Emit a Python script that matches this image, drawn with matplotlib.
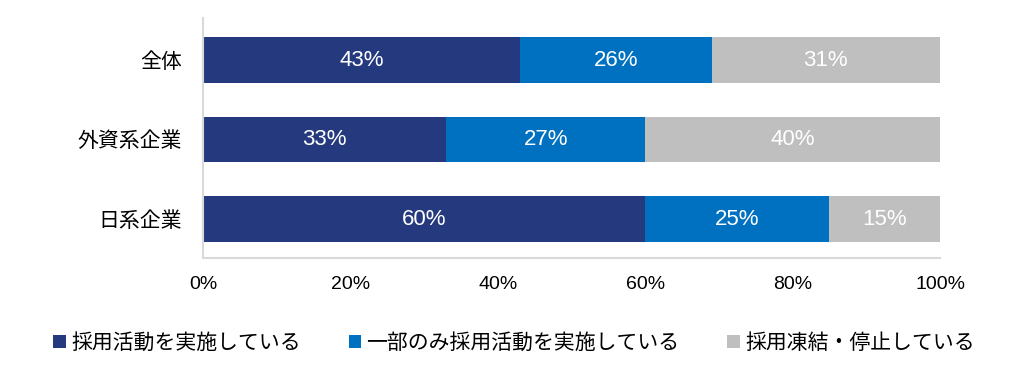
import matplotlib
matplotlib.use("Agg")
import matplotlib.pyplot as plt
import numpy as np

plt.rcParams['font.family'] = ['Liberation Sans', 'Noto Sans CJK JP', 'DejaVu Sans']

categories = ["全体", "外資系企業", "日系企業"]
series_names = ["採用活動を実施している", "一部のみ採用活動を実施している", "採用凍結・停止している"]
values = [
    [43, 33, 60],
    [26, 27, 25],
    [31, 40, 15],
]
colors = ["#253A7E", "#0070C0", "#BFBFBF"]
xticks = [0, 20, 40, 60, 80, 100]
xtick_labels = ["0%", "20%", "40%", "60%", "80%", "100%"]

fig = plt.figure(figsize=(10.22, 3.79), dpi=100)
ax = fig.add_axes([203/1022, 1-258/379, (940-203)/1022, 240/379])

y = np.arange(len(categories))
left = np.zeros(len(categories))
handles = []
for name, vals, c in zip(series_names, values, colors):
    vals = np.array(vals, dtype=float)
    b = ax.barh(y, vals, left=left, height=0.57, color=c, label=name)
    handles.append(b)
    for yi, l, v in zip(y, left, vals):
        ax.text(l + v/2, yi, f"{int(v)}%", ha="center", va="center",
                color="white", fontsize=16)
    left += vals

ax.set_xlim(0, 100)
ax.set_ylim(2.49, -0.53)
ax.set_yticks(y)
ax.set_yticklabels(categories, fontsize=15)
ax.set_xticks(xticks)
ax.set_xticklabels(xtick_labels, fontsize=14)
ax.tick_params(axis="both", length=0)
ax.tick_params(axis="x", pad=13)
ax.tick_params(axis="y", pad=15)
for s in ["top", "right"]:
    ax.spines[s].set_visible(False)
for s in ["left", "bottom"]:
    ax.spines[s].set_color("#D9D9D9")
    ax.spines[s].set_linewidth(1.5)

fig.legend(handles=handles, labels=series_names, loc="center",
           bbox_to_anchor=(0.503, 1-343/379), ncol=3, frameon=False,
           fontsize=15, handlelength=0.6, handleheight=0.6,
           handletextpad=0.25, columnspacing=2.3)

fig.savefig("out.png", dpi=100)
